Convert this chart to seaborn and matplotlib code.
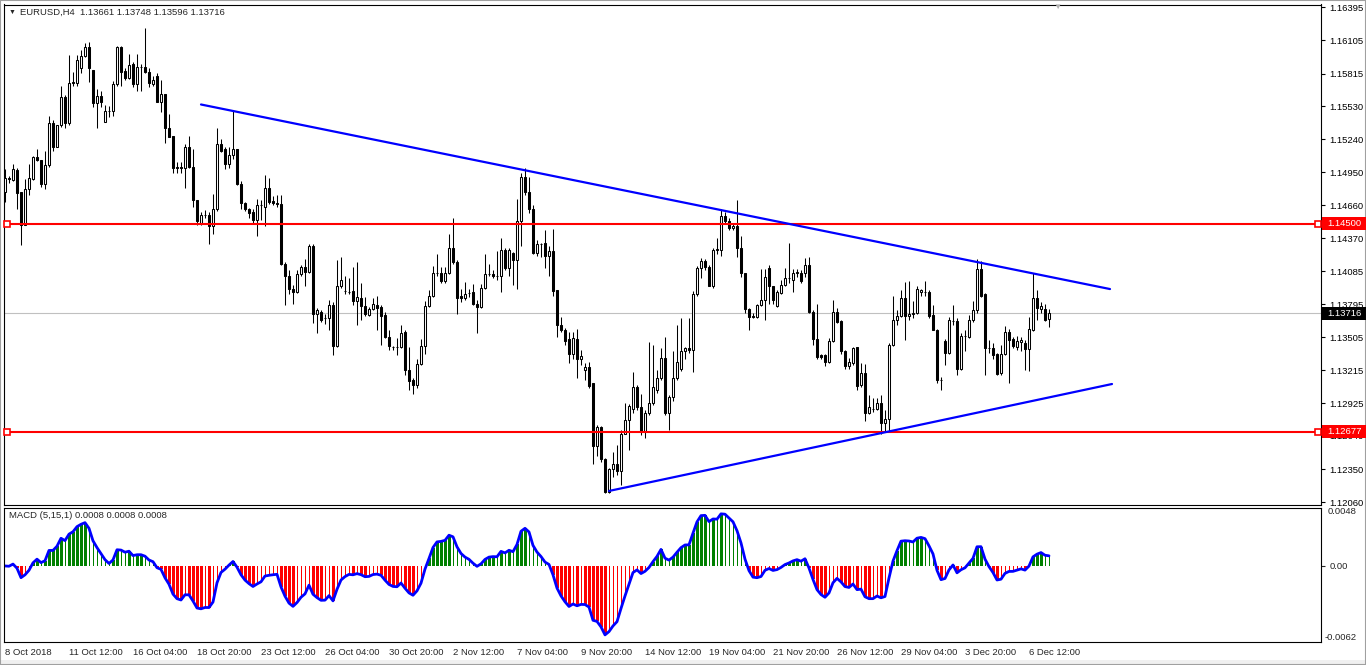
import numpy as np
import pandas as pd
import matplotlib
matplotlib.use("Agg")
import matplotlib.pyplot as plt
import matplotlib.transforms as mtransforms
from matplotlib.patches import Rectangle
import seaborn as sns

# EURUSD H4 candles (8 Oct 2018 20:00 -> 7 Dec 2018 08:00)
open_ = [
    1.1478, 1.1490, 1.1488, 1.1497, 1.1478, 1.1449, 1.1480, 1.1489, 1.1508, 1.1506,
    1.1485, 1.1501, 1.1538, 1.1517, 1.1536, 1.1561, 1.1538, 1.1574, 1.1573, 1.1586,
    1.1597, 1.1605, 1.1585, 1.1556, 1.1562, 1.1539, 1.1549, 1.1549, 1.1572, 1.1605,
    1.1584, 1.1578, 1.1590, 1.1572, 1.1587, 1.1587, 1.1583, 1.1572, 1.1579, 1.1557,
    1.1564, 1.1534, 1.1527, 1.1500, 1.1500, 1.1499, 1.1517, 1.1500, 1.1471, 1.1451,
    1.1458, 1.1458, 1.1448, 1.1463, 1.1520, 1.1515, 1.1502, 1.1510, 1.1515, 1.1485,
    1.1468, 1.1463, 1.1460, 1.1453, 1.1466, 1.1465, 1.1481, 1.1470, 1.1468, 1.1467,
    1.1415, 1.1404, 1.1393, 1.1390, 1.1406, 1.1412, 1.1408, 1.1430, 1.1371, 1.1373,
    1.1367, 1.1367, 1.1379, 1.1343, 1.1395, 1.1391, 1.1390, 1.1391, 1.1382, 1.1385,
    1.1378, 1.1370, 1.1375, 1.1379, 1.1377, 1.1370, 1.1351, 1.1342, 1.1342, 1.1342,
    1.1355, 1.1322, 1.1313, 1.1309, 1.1327, 1.1343, 1.1378, 1.1387, 1.1407, 1.1407,
    1.1400, 1.1407, 1.1429, 1.1416, 1.1387, 1.1385, 1.1389, 1.1390, 1.1380, 1.1377,
    1.1394, 1.1406, 1.1406, 1.1404, 1.1404, 1.1427, 1.1411, 1.1424, 1.1418, 1.1452,
    1.1491, 1.1478, 1.1463, 1.1424, 1.1432, 1.1433, 1.1422, 1.1426, 1.1392, 1.1361,
    1.1357, 1.1349, 1.1336, 1.1349, 1.1331, 1.1322, 1.1324, 1.1310, 1.1255, 1.1272,
    1.1244, 1.1215, 1.1235, 1.1239, 1.1233, 1.1266, 1.1278, 1.1288, 1.1307, 1.1289,
    1.1268, 1.1284, 1.1293, 1.1304, 1.1315, 1.1332, 1.1284, 1.1298, 1.1315, 1.1323,
    1.1338, 1.1341, 1.1339, 1.1388, 1.1411, 1.1417, 1.1412, 1.1395, 1.1427, 1.1427,
    1.1457, 1.1452, 1.1446, 1.1448, 1.1429, 1.1407, 1.1375, 1.1369, 1.1368, 1.1379,
    1.1383, 1.1411, 1.1395, 1.1378, 1.1389, 1.1396, 1.1402, 1.1401, 1.1407, 1.1407,
    1.1407, 1.1414, 1.1373, 1.1349, 1.1335, 1.1335, 1.1329, 1.1347, 1.1373, 1.1365,
    1.1338, 1.1325, 1.1328, 1.1342, 1.1309, 1.1319, 1.1284, 1.1288, 1.1288, 1.1293,
    1.1275, 1.1279, 1.1344, 1.1366, 1.1369, 1.1385, 1.1369, 1.1371, 1.1372, 1.1390,
    1.1390, 1.1390, 1.1370, 1.1357, 1.1313, 1.1347, 1.1337, 1.1365, 1.1365, 1.1323,
    1.1352, 1.1351, 1.1366, 1.1374, 1.1410, 1.1388, 1.1341, 1.1341, 1.1336, 1.1319,
    1.1336, 1.1355, 1.1349, 1.1342, 1.1346, 1.1345, 1.1340, 1.1357, 1.1385, 1.1375,
    1.1375, 1.13661,
]
high = [
    1.1498, 1.1492, 1.1502, 1.1499, 1.1478, 1.1489, 1.1502, 1.1509, 1.1515, 1.1506,
    1.1514, 1.1544, 1.1541, 1.1536, 1.1571, 1.1563, 1.1598, 1.1583, 1.1598, 1.1602,
    1.1608, 1.1609, 1.1585, 1.1568, 1.1566, 1.1554, 1.1553, 1.1575, 1.1606, 1.1606,
    1.1586, 1.1599, 1.1592, 1.1599, 1.1590, 1.1621, 1.1586, 1.1579, 1.1582, 1.1576,
    1.1564, 1.1546, 1.1527, 1.1504, 1.1504, 1.1520, 1.1527, 1.1515, 1.1471, 1.1460,
    1.1462, 1.1460, 1.1476, 1.1534, 1.1524, 1.1517, 1.1517, 1.1550, 1.1515, 1.1487,
    1.1469, 1.1464, 1.1463, 1.1472, 1.1471, 1.1493, 1.1490, 1.1474, 1.1475, 1.1475,
    1.1416, 1.1409, 1.1396, 1.1409, 1.1414, 1.1419, 1.1432, 1.1432, 1.1376, 1.1374,
    1.1371, 1.1383, 1.1381, 1.1418, 1.1421, 1.1404, 1.1402, 1.1412, 1.1416, 1.1398,
    1.1386, 1.1377, 1.1385, 1.1387, 1.1379, 1.1373, 1.1357, 1.1343, 1.1350, 1.1361,
    1.1357, 1.1342, 1.1315, 1.1331, 1.1349, 1.1382, 1.1392, 1.1413, 1.1423, 1.1412,
    1.1412, 1.1441, 1.1455, 1.1418, 1.1393, 1.1399, 1.1393, 1.1397, 1.1383, 1.1397,
    1.1423, 1.1415, 1.1409, 1.1426, 1.1437, 1.1429, 1.1429, 1.1425, 1.1472, 1.1494,
    1.1499, 1.1491, 1.1466, 1.1436, 1.1433, 1.1444, 1.1430, 1.1445, 1.1392, 1.1368,
    1.1359, 1.1355, 1.1355, 1.1358, 1.1339, 1.1328, 1.1329, 1.1310, 1.1274, 1.1273,
    1.1245, 1.1236, 1.1250, 1.1256, 1.1269, 1.1293, 1.1292, 1.1320, 1.1309, 1.1301,
    1.1287, 1.1346, 1.1344, 1.1322, 1.1341, 1.1351, 1.1300, 1.1338, 1.1361, 1.1367,
    1.1342, 1.1367, 1.1391, 1.1413, 1.1420, 1.1419, 1.1414, 1.1429, 1.1437, 1.1463,
    1.1460, 1.1455, 1.1451, 1.1471, 1.1439, 1.1407, 1.1376, 1.1372, 1.1380, 1.1410,
    1.1410, 1.1414, 1.1395, 1.1392, 1.1401, 1.1411, 1.1433, 1.1410, 1.1410, 1.1409,
    1.1420, 1.1421, 1.1374, 1.1380, 1.1336, 1.1336, 1.1350, 1.1383, 1.1376, 1.1366,
    1.1339, 1.1332, 1.1342, 1.1342, 1.1328, 1.1327, 1.1300, 1.1297, 1.1297, 1.1300,
    1.1287, 1.1345, 1.1387, 1.1374, 1.1392, 1.1399, 1.1400, 1.1382, 1.1395, 1.1393,
    1.1400, 1.1392, 1.1379, 1.1358, 1.1316, 1.1349, 1.1368, 1.1379, 1.1367, 1.1354,
    1.1357, 1.1370, 1.1382, 1.1419, 1.1417, 1.1389, 1.1348, 1.1345, 1.1337, 1.1344,
    1.1360, 1.1358, 1.1351, 1.1352, 1.1351, 1.1348, 1.1368, 1.1407, 1.1392, 1.1381,
    1.1380, 1.13748,
]
low = [
    1.1469, 1.1486, 1.1487, 1.1463, 1.1431, 1.1449, 1.1475, 1.1488, 1.1505, 1.1482,
    1.1480, 1.1500, 1.1514, 1.1517, 1.1535, 1.1534, 1.1536, 1.1571, 1.1571, 1.1582,
    1.1596, 1.1574, 1.1552, 1.1534, 1.1552, 1.1539, 1.1543, 1.1544, 1.1571, 1.1571,
    1.1576, 1.1577, 1.1570, 1.1566, 1.1566, 1.1582, 1.1570, 1.1571, 1.1557, 1.1548,
    1.1521, 1.1526, 1.1494, 1.1494, 1.1494, 1.1481, 1.1499, 1.1465, 1.1449, 1.1449,
    1.1455, 1.1432, 1.1441, 1.1461, 1.1513, 1.1498, 1.1499, 1.1507, 1.1484, 1.1463,
    1.1461, 1.1455, 1.1450, 1.1439, 1.1453, 1.1448, 1.1467, 1.1466, 1.1465, 1.1414,
    1.1379, 1.1388, 1.1380, 1.1389, 1.1404, 1.1395, 1.1407, 1.1363, 1.1354, 1.1364,
    1.1362, 1.1357, 1.1335, 1.1342, 1.1394, 1.1388, 1.1388, 1.1379, 1.1361, 1.1366,
    1.1369, 1.1369, 1.1374, 1.1357, 1.1344, 1.1350, 1.1339, 1.1339, 1.1335, 1.1341,
    1.1317, 1.1304, 1.1301, 1.1306, 1.1326, 1.1336, 1.1377, 1.1386, 1.1404, 1.1398,
    1.1398, 1.1406, 1.1415, 1.1371, 1.1381, 1.1383, 1.1386, 1.1379, 1.1354, 1.1376,
    1.1393, 1.1404, 1.1402, 1.1401, 1.1390, 1.1409, 1.1404, 1.1396, 1.1393, 1.1430,
    1.1475, 1.1459, 1.1423, 1.1422, 1.1421, 1.1411, 1.1404, 1.1387, 1.1351, 1.1355,
    1.1344, 1.1328, 1.1331, 1.1315, 1.1326, 1.1313, 1.1306, 1.1239, 1.1246, 1.1241,
    1.1214, 1.1214, 1.1228, 1.1230, 1.1221, 1.1266, 1.1252, 1.1284, 1.1287, 1.1265,
    1.1262, 1.1282, 1.1291, 1.1302, 1.1313, 1.1282, 1.1269, 1.1295, 1.1313, 1.1321,
    1.1331, 1.1337, 1.1320, 1.1387, 1.1402, 1.1409, 1.1395, 1.1394, 1.1423, 1.1422,
    1.1451, 1.1444, 1.1444, 1.1421, 1.1403, 1.1372, 1.1357, 1.1367, 1.1367, 1.1378,
    1.1366, 1.1380, 1.1380, 1.1377, 1.1388, 1.1395, 1.1398, 1.1390, 1.1403, 1.1398,
    1.1403, 1.1372, 1.1344, 1.1331, 1.1331, 1.1325, 1.1328, 1.1346, 1.1363, 1.1336,
    1.1323, 1.1323, 1.1326, 1.1304, 1.1307, 1.1277, 1.1283, 1.1285, 1.1287, 1.1266,
    1.1268, 1.1268, 1.1343, 1.1361, 1.1368, 1.1348, 1.1366, 1.1367, 1.1371, 1.1387,
    1.1387, 1.1367, 1.1357, 1.1310, 1.1304, 1.1326, 1.1336, 1.1361, 1.1317, 1.1322,
    1.1338, 1.1350, 1.1364, 1.1372, 1.1386, 1.1317, 1.1337, 1.1331, 1.1317, 1.1317,
    1.1335, 1.1310, 1.1341, 1.1339, 1.1338, 1.1322, 1.1321, 1.1356, 1.1366, 1.1372,
    1.1365, 1.13596,
]
close = [
    1.1490, 1.1489, 1.1498, 1.1477, 1.1449, 1.1480, 1.1490, 1.1508, 1.1506, 1.1485,
    1.1501, 1.1538, 1.1517, 1.1536, 1.1561, 1.1538, 1.1573, 1.1573, 1.1593, 1.1597,
    1.1605, 1.1586, 1.1556, 1.1562, 1.1557, 1.1549, 1.1549, 1.1572, 1.1605, 1.1583,
    1.1578, 1.1589, 1.1572, 1.1587, 1.1587, 1.1583, 1.1573, 1.1576, 1.1557, 1.1564,
    1.1534, 1.1526, 1.1499, 1.1499, 1.1499, 1.1517, 1.1500, 1.1471, 1.1452, 1.1458,
    1.1458, 1.1448, 1.1463, 1.1520, 1.1514, 1.1502, 1.1510, 1.1515, 1.1485, 1.1468,
    1.1463, 1.1459, 1.1453, 1.1466, 1.1466, 1.1481, 1.1469, 1.1468, 1.1467, 1.1415,
    1.1404, 1.1393, 1.1390, 1.1406, 1.1412, 1.1408, 1.1430, 1.1371, 1.1374, 1.1366,
    1.1367, 1.1379, 1.1343, 1.1395, 1.1401, 1.1391, 1.1390, 1.1382, 1.1386, 1.1378,
    1.1371, 1.1375, 1.1380, 1.1376, 1.1369, 1.1351, 1.1343, 1.1342, 1.1342, 1.1354,
    1.1322, 1.1312, 1.1309, 1.1327, 1.1343, 1.1378, 1.1387, 1.1407, 1.1407, 1.1400,
    1.1407, 1.1429, 1.1416, 1.1385, 1.1385, 1.1388, 1.1389, 1.1380, 1.1377, 1.1394,
    1.1406, 1.1406, 1.1404, 1.1404, 1.1427, 1.1411, 1.1427, 1.1418, 1.1452, 1.1491,
    1.1478, 1.1463, 1.1424, 1.1432, 1.1432, 1.1422, 1.1426, 1.1391, 1.1361, 1.1357,
    1.1347, 1.1336, 1.1350, 1.1331, 1.1334, 1.1324, 1.1308, 1.1255, 1.1272, 1.1244,
    1.1215, 1.1235, 1.1239, 1.1233, 1.1266, 1.1278, 1.1290, 1.1307, 1.1289, 1.1268,
    1.1284, 1.1293, 1.1307, 1.1315, 1.1332, 1.1284, 1.1298, 1.1315, 1.1329, 1.1338,
    1.1341, 1.1339, 1.1388, 1.1411, 1.1417, 1.1412, 1.1395, 1.1427, 1.1428, 1.1457,
    1.1452, 1.1446, 1.1448, 1.1429, 1.1407, 1.1375, 1.1368, 1.1368, 1.1379, 1.1383,
    1.1403, 1.1395, 1.1383, 1.1390, 1.1396, 1.1402, 1.1402, 1.1407, 1.1408, 1.1400,
    1.1414, 1.1373, 1.1349, 1.1333, 1.1333, 1.1329, 1.1347, 1.1373, 1.1364, 1.1338,
    1.1325, 1.1329, 1.1341, 1.1308, 1.1319, 1.1284, 1.1289, 1.1288, 1.1293, 1.1275,
    1.1279, 1.1344, 1.1366, 1.1369, 1.1385, 1.1369, 1.1371, 1.1372, 1.1393, 1.1392,
    1.1390, 1.1369, 1.1357, 1.1313, 1.1313, 1.1337, 1.1366, 1.1365, 1.1323, 1.1352,
    1.1352, 1.1366, 1.1374, 1.1410, 1.1387, 1.1341, 1.1341, 1.1335, 1.1318, 1.1336,
    1.1355, 1.1348, 1.1343, 1.1347, 1.1348, 1.1340, 1.1358, 1.1385, 1.1376, 1.1378,
    1.1366, 1.13716,
]

date_labels = ['8 Oct 2018', '11 Oct 12:00', '16 Oct 04:00', '18 Oct 20:00', '23 Oct 12:00',
               '26 Oct 04:00', '30 Oct 20:00', '2 Nov 12:00', '7 Nov 04:00', '9 Nov 20:00',
               '14 Nov 12:00', '19 Nov 04:00', '21 Nov 20:00', '26 Nov 12:00', '29 Nov 04:00',
               '3 Dec 20:00', '6 Dec 12:00']
price_ticks = [1.16395, 1.16105, 1.15815, 1.15530, 1.15240, 1.14950, 1.14660, 1.14370,
               1.14085, 1.13795, 1.13505, 1.13215, 1.12925, 1.12640, 1.12350, 1.12060]

level_high = 1.14500
level_low = 1.12677
last_price = 1.13716

# trendlines drawn on the chart (bar index, price)
upper_x = [49.0, 276.25]
upper_y = [1.15544, 1.13927]
lower_x = [151.0, 276.75]
lower_y = [1.12158, 1.13095]

df = pd.DataFrame({'open': open_, 'high': high, 'low': low, 'close': close})
df['i'] = np.arange(len(df))

# MACD(5,15,1): signal period 1 so the line equals the histogram
macd = df['close'].ewm(span=5, adjust=False).mean() - df['close'].ewm(span=15, adjust=False).mean()
prev = macd.shift(1).fillna(0)
growing = ((macd >= 0) & (macd >= prev)) | ((macd < 0) & (macd <= prev))

sns.set_style("white")
plt.rcParams['font.family'] = ['Liberation Sans', 'DejaVu Sans']
fs = 6.8

W, H = 1366, 665
fig = plt.figure(figsize=(W / 100, H / 100), dpi=100)


def box(x0, y0, x1, y1):
    return [x0 / W, 1 - y1 / H, (x1 - x0) / W, (y1 - y0) / H]


ax = fig.add_axes(box(4, 4.5, 1321, 505))
axm = fig.add_axes(box(4, 507.5, 1321, 641.5))

# candles
up = df['close'] >= df['open']
ax.vlines(df['i'], df['low'], df['high'], color='black', lw=0.75, zorder=2)
ax.bar(df['i'], (df['close'] - df['open']).abs(), bottom=np.minimum(df['open'], df['close']),
       width=0.55, color=np.where(up, 'white', 'black'), edgecolor='black', linewidth=0.75, zorder=3)

# horizontal levels and trendlines
ax.axhline(last_price, color='#c0c0c0', lw=0.8, zorder=1)
for lv in (level_high, level_low):
    ax.axhline(lv, color='red', lw=1.5, zorder=4)
    ax.plot([0.5, 328.2], [lv, lv], ls='none', marker='s', ms=4, mfc='white', mec='red', mew=1.2,
            zorder=5, clip_on=False)
sns.lineplot(x=upper_x, y=upper_y, ax=ax, color='blue', lw=1.6, zorder=4)
sns.lineplot(x=lower_x, y=lower_y, ax=ax, color='blue', lw=1.6, zorder=4)

ax.set_xlim(-0.25, 329)
ax.set_ylim(1.12035, 1.16420)
ax.set_xticks([])
ax.yaxis.tick_right()
ax.set_yticks(price_ticks)
ax.set_yticklabels([f'{t:.5f}' for t in price_ticks])
ax.tick_params(axis='y', direction='out', length=3, width=0.8, pad=3, labelsize=fs, colors='black')
ax.set_xlabel('')
ax.set_ylabel('')

# price tags on the right axis
tag = mtransforms.blended_transform_factory(fig.transFigure, ax.transData)
half = 6.5 * (1.16420 - 1.12035) / 500.5
for val, fc, tc in ((level_high, 'red', 'white'), (level_low, 'red', 'white'), (last_price, 'black', 'white')):
    fig.patches.append(Rectangle((1322 / W, val - half), 44 / W, 2 * half, transform=tag,
                                 facecolor=fc, edgecolor='none', zorder=10))
    fig.text(1327 / W, val, f'{val:.5f}', transform=tag, color=tc, fontsize=fs, ha='left', va='center',
             zorder=11)

# MACD panel
axm.bar(df['i'], macd, width=np.where(growing, 0.75, 0.25),
        color=np.where(macd >= 0, '#008000', '#ff0000'), linewidth=0, antialiased=False)
sns.lineplot(x=df['i'], y=macd, ax=axm, color='blue', lw=2)
axm.set_xlim(-0.25, 329)
axm.set_ylim(-0.0062, 0.0048)
axm.yaxis.tick_right()
axm.set_yticks([0.0])
axm.set_yticklabels(['0.00'])
axm.tick_params(axis='y', direction='out', length=3, width=0.8, pad=3, labelsize=fs)
axm.set_xticks(np.arange(len(date_labels)) * 16)
axm.set_xticklabels(date_labels)
axm.tick_params(axis='x', direction='out', length=3, width=0.8, pad=2, labelsize=fs)
for t in axm.get_xticklabels():
    t.set_ha('left')
axm.set_xlabel('')
axm.set_ylabel('')
axm.text(1.0047, 0.0048, '0.0048', transform=mtransforms.blended_transform_factory(axm.transAxes, axm.transData),
         fontsize=fs, ha='left', va='top')
axm.text(1.003, -0.0062, '-0.0062', transform=mtransforms.blended_transform_factory(axm.transAxes, axm.transData),
         fontsize=fs, ha='left', va='bottom')

for a in (ax, axm):
    for s in a.spines.values():
        s.set_color('black')
        s.set_linewidth(0.8)

# headers
fig.text(9 / W, 1 - 12 / H, '\u25bc', fontsize=5, ha='left', va='center')
fig.text(20 / W, 1 - 12 / H, 'EURUSD,H4  1.13661 1.13748 1.13596 1.13716', fontsize=fs, ha='left', va='center')
fig.text(9 / W, 1 - 516 / H, 'MACD (5,15,1) 0.0008 0.0008 0.0008', fontsize=fs, ha='left', va='center')
fig.text(1057 / W, 1 - 7 / H, '\u25bc', fontsize=6, color='#b0b0b0', ha='center', va='center')

# window frame and bottom strip
fig.patches.append(Rectangle((0, 0), 1, 5 / H, transform=fig.transFigure, facecolor='#f0f0f0',
                             edgecolor='none', zorder=0))
fig.patches.append(Rectangle((0, 0), 1, 1, transform=fig.transFigure, facecolor='none',
                             edgecolor='#a0a0a0', lw=1.5, zorder=0))

fig.savefig('out.png', dpi=100)
